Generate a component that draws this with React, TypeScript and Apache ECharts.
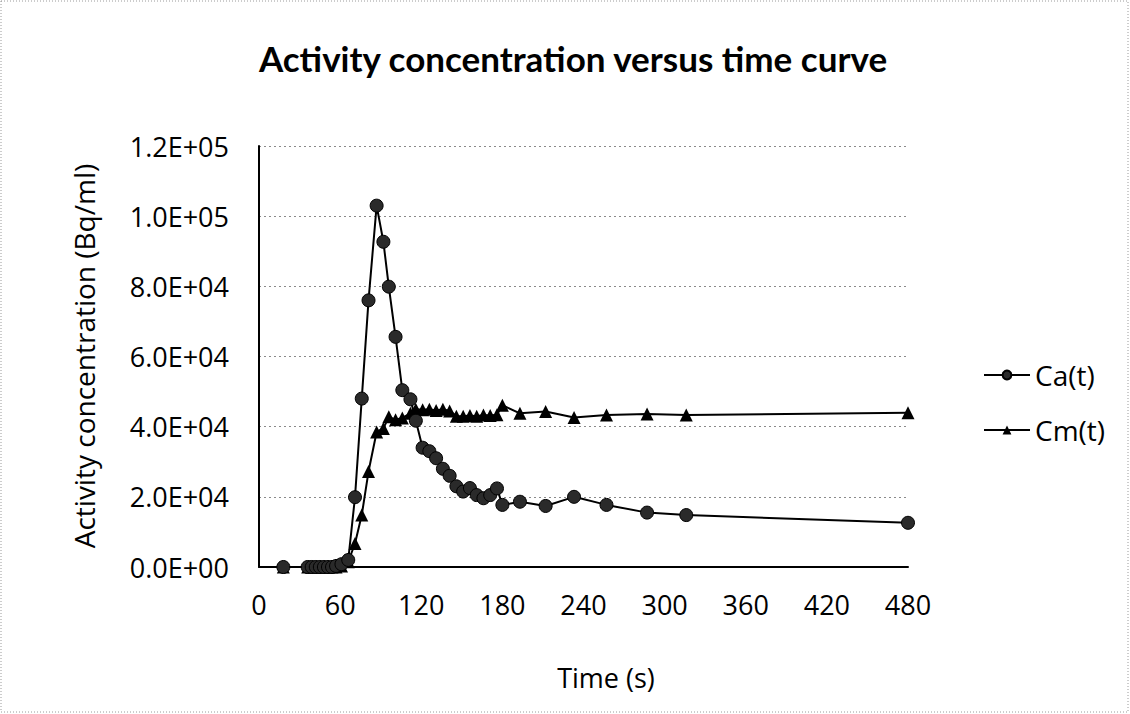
import React, { useEffect, useRef } from "react";
import * as echarts from "echarts";

const titleText = "Activity concentration versus time curve";
const xAxisName = "Time (s)";
const yAxisName = "Activity concentration (Bq/ml)";
const seriesNames = ["Ca(t)", "Cm(t)"];

const times = [18, 36, 39, 42, 45, 48, 51, 54, 57, 61, 66, 71, 76, 81, 87, 92, 96, 101, 106, 112, 116, 121, 126, 131, 136, 141, 146, 151, 156, 161, 166, 171, 176, 180, 193, 212, 233, 257, 287, 316, 480];

const caValues = [0, 0, 0, 0, 0, 0, 0, 0, 300, 800, 2000, 19900, 48000, 76000, 103000, 92700, 79900, 65600, 50400, 47800, 41700, 34000, 33000, 31000, 28000, 26000, 23000, 21500, 22500, 20500, 19600, 20500, 22400, 17700, 18600, 17400, 20000, 17700, 15500, 14800, 12600];

const cmValues = [0, 0, 0, 0, 0, 0, 0, 0, 0, 300, 1500, 6700, 14800, 27200, 38500, 39500, 42800, 42000, 42500, 43800, 45000, 44800, 45000, 44600, 45000, 44500, 43000, 43000, 43200, 43000, 43300, 43200, 43400, 46100, 43800, 44300, 42600, 43300, 43600, 43300, 44000];

const xMin = 0;
const xMax = 480;
const xStep = 60;
const yMin = 0;
const yMax = 120000;
const yStep = 20000;

function sci(v: number): string {
  if (v === 0) return "0.0E+00";
  const e = Math.floor(Math.log10(Math.abs(v)) + 1e-9);
  const m = v / Math.pow(10, e);
  return m.toFixed(1) + "E+" + String(e).padStart(2, "0");
}

const FONT = "'Open Sans', sans-serif";

export default function App() {
  const ref = useRef<HTMLDivElement>(null);
  useEffect(() => {
    document.body.style.margin = "0";
    if (!ref.current) return;
    const chart = echarts.init(ref.current, null, { renderer: "svg" });
    const ca = times.map((t, i) => [t, caValues[i]]);
    const cm = times.map((t, i) => [t, cmValues[i]]);
    chart.setOption({
      animation: false,
      backgroundColor: "#ffffff",
      title: {
        text: titleText,
        left: 568,
        top: 35,
        textAlign: "center",
        textStyle: { fontFamily: "Lato, sans-serif", fontWeight: "bold", fontSize: 35, color: "#000" },
      },
      grid: { left: 259, right: 222, top: 146, bottom: 147, containLabel: false },
      legend: {
        orient: "vertical",
        left: 978,
        top: 355,
        itemWidth: 46,
        itemHeight: 11,
        itemGap: 25,
        textStyle: { fontFamily: FONT, fontSize: 28, lineHeight: 30, color: "#000" },
        data: seriesNames,
      },
      xAxis: {
        type: "value",
        min: xMin,
        max: xMax,
        interval: xStep,
        axisLine: { show: true, lineStyle: { color: "#000", width: 2 } },
        axisTick: { show: false },
        splitLine: { show: false },
        axisLabel: { margin: 24, fontFamily: FONT, fontSize: 27, color: "#000" },
      },
      yAxis: {
        type: "value",
        min: yMin,
        max: yMax,
        interval: yStep,
        axisLine: { show: true, lineStyle: { color: "#000", width: 2 } },
        axisTick: { show: false },
        splitLine: { show: true, lineStyle: { color: "#8a8a8a", type: [2, 3], width: 1 } },
        axisLabel: { margin: 30, fontFamily: FONT, fontSize: 27, color: "#000", formatter: (v: number) => sci(v) },
      },
      graphic: [
        {
          type: "rect",
          shape: { x: 1, y: 1, width: 1127, height: 711 },
          style: { fill: "none", stroke: "#9a9a9a", lineWidth: 1, lineDash: [1, 2] },
          silent: true,
        },
        {
          type: "text",
          x: 84,
          y: 356,
          rotation: Math.PI / 2,
          style: { text: yAxisName, align: "center", verticalAlign: "middle", font: "28px 'Open Sans', sans-serif", fill: "#000" },
        },
        {
          type: "text",
          x: 606,
          y: 677,
          style: { text: xAxisName, align: "center", verticalAlign: "middle", font: "27px 'Open Sans', sans-serif", fill: "#000" },
        },
      ],
      series: [
        {
          name: seriesNames[0],
          type: "line",
          data: ca,
          symbol: "circle",
          symbolSize: 13,
          lineStyle: { color: "#000", width: 2 },
          itemStyle: { color: "#2a2a2a", borderColor: "#000", borderWidth: 1 },
          z: 3,
        },
        {
          name: seriesNames[1],
          type: "line",
          data: cm,
          symbol: "triangle",
          symbolSize: 13,
          lineStyle: { color: "#000", width: 2 },
          itemStyle: { color: "#000" },
          z: 2,
        },
      ],
    });
    return () => chart.dispose();
  }, []);
  return <div ref={ref} style={{ width: 1130, height: 714 }} />;
}
